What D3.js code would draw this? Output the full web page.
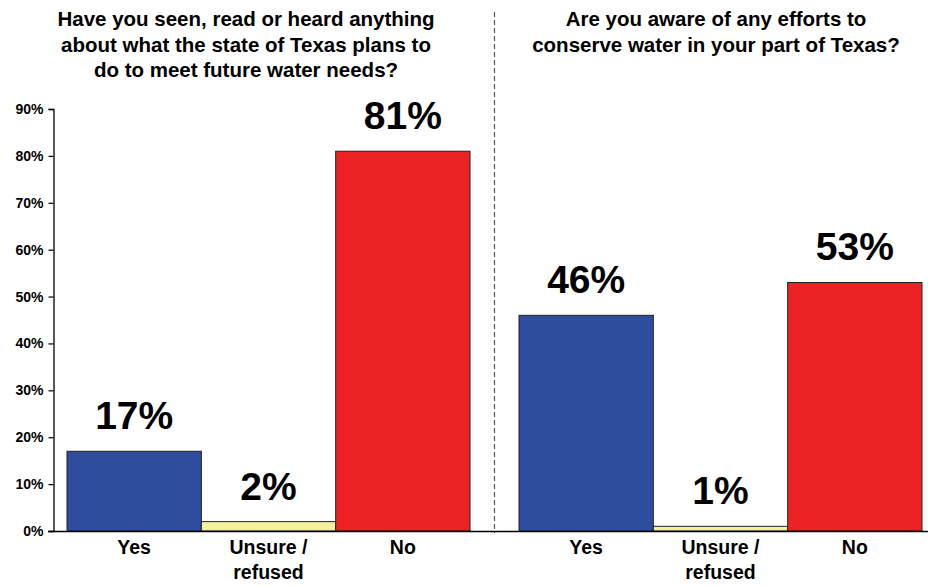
<!DOCTYPE html>
<html>
<head>
<meta charset="utf-8">
<script src="https://cdn.jsdelivr.net/npm/d3@7"></script>
<style>
  html, body { margin: 0; padding: 0; background: #fff; }
  svg { display: block; }
  text { font-family: "Liberation Sans", Arial, sans-serif; font-weight: bold; fill: #000; }
</style>
</head>
<body>
<svg id="chart" width="928" height="586"></svg>
<script>
// ---- data ----
const categories = ["Yes", "Unsure / refused", "No"];
const categoryLines = [["Yes"], ["Unsure /", "refused"], ["No"]];
const planValues = [17, 2, 81];       // "Have you seen, read or heard anything..."
const conserveValues = [46, 1, 53];   // "Are you aware of any efforts..."
const yTicks = [0, 10, 20, 30, 40, 50, 60, 70, 80, 90];
const leftTitle = ["Have you seen, read or heard anything", "about what the state of Texas plans to", "do to meet future water needs?"];
const rightTitle = ["Are you aware of any efforts to", "conserve water in your part of Texas?"];
const barColors = ["#2E4D9E", "#F3F29E", "#EC2224"];

// ---- layout ----
const svg = d3.select("#chart");
const y = d3.scaleLinear().domain([0, 90]).range([531, 109]);

const xLeft = d3.scaleBand().domain(categories).range([67, 470]).padding(0);
const xRight = d3.scaleBand().domain(categories).range([519, 922]).padding(0);

// y axis
const yAxis = d3.axisLeft(y).tickValues(yTicks).tickFormat(d => d + "%").tickSize(5).tickPadding(5);
const gy = svg.append("g").attr("transform", "translate(53.5,0)").call(yAxis);
gy.select(".domain").attr("stroke", "#000").attr("stroke-width", 1.3);
gy.selectAll(".tick line").attr("stroke", "#000").attr("stroke-width", 1.2);
gy.selectAll(".tick text").style("font-size", "14px").style("font-family", "'Liberation Sans', Arial, sans-serif").style("font-weight", "bold").attr("fill", "#000");

// divider
svg.append("line")
  .attr("x1", 494.5).attr("x2", 494.5).attr("y1", 12).attr("y2", 533)
  .attr("stroke", "#555").attr("stroke-width", 1.2).attr("stroke-dasharray", "5,3");

function panel(x, values, title, titleCenter) {
  const g = svg.append("g");
  g.selectAll("rect.bar").data(values).join("rect")
    .attr("class", "bar")
    .attr("x", (d, i) => x(categories[i]))
    .attr("width", x.bandwidth())
    .attr("y", d => y(d))
    .attr("height", d => y(0) - y(d))
    .attr("fill", (d, i) => barColors[i])
    .attr("stroke", "#222").attr("stroke-width", 1);

  g.selectAll("text.val").data(values).join("text")
    .attr("class", "val")
    .attr("x", (d, i) => x(categories[i]) + x.bandwidth() / 2)
    .attr("y", d => y(d) - 22)
    .attr("text-anchor", "middle")
    .style("font-size", "39px")
    .text(d => d + "%");

  const cl = g.selectAll("text.cat").data(categoryLines).join("text")
    .attr("class", "cat")
    .attr("x", (d, i) => x(categories[i]) + x.bandwidth() / 2)
    .attr("y", 554)
    .attr("text-anchor", "middle")
    .style("font-size", "19.5px");
  cl.selectAll("tspan").data(d => d).join("tspan")
    .attr("x", function () { return d3.select(this.parentNode).attr("x"); })
    .attr("dy", (d, i) => i === 0 ? 0 : 25)
    .text(d => d);

  const t = g.append("text").attr("text-anchor", "middle").style("font-size", "20.5px");
  t.selectAll("tspan").data(title).join("tspan")
    .attr("x", titleCenter)
    .attr("y", (d, i) => 26 + i * 25.7)
    .text(d => d);
}

panel(xLeft, planValues, leftTitle, 246);
panel(xRight, conserveValues, rightTitle, 716);

// baseline
svg.append("line")
  .attr("x1", 48).attr("x2", 928).attr("y1", y(0) + 0.5).attr("y2", y(0) + 0.5)
  .attr("stroke", "#000").attr("stroke-width", 1.3);
</script>
</body>
</html>
